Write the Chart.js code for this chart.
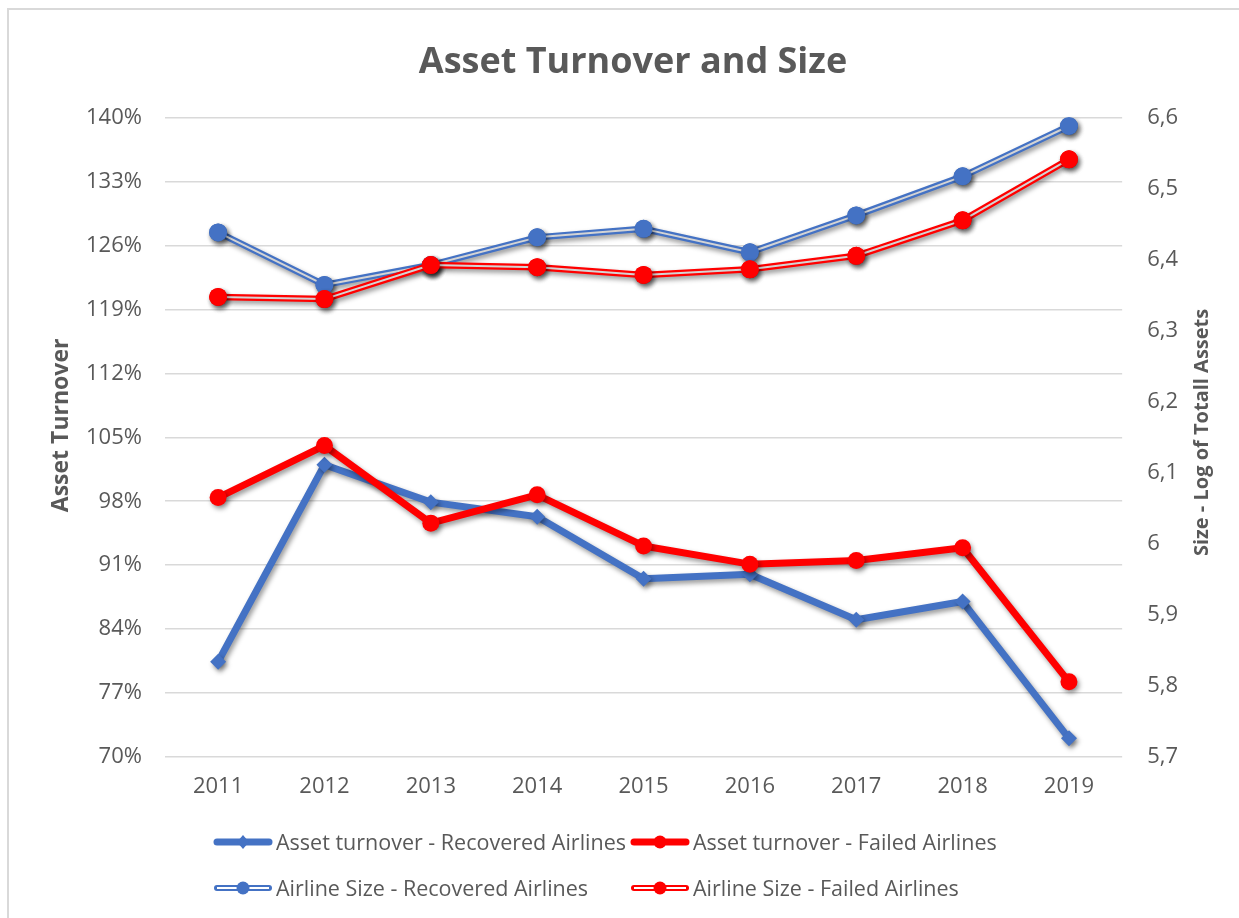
<!DOCTYPE html>
<html>
<head>
<meta charset="utf-8">
<script src="https://cdn.jsdelivr.net/npm/chart.js@4.4.1/dist/chart.umd.min.js"></script>
<style>
  body { margin: 0; background: #fff; font-family: 'Open Sans', sans-serif; }
  #frame { position: absolute; left: 7px; top: 8px; width: 1230px; height: 908px;
           border-top: 2px solid #d9d9d9; border-left: 2px solid #d9d9d9; }
  #wrap { position: absolute; left: 0; top: 0; width: 1230px; height: 908px; }
  .item { position: absolute; display: flex; align-items: center; font-size: 21.5px; color: #595959; white-space: nowrap; }
  .item svg { margin-right: 3px; }
</style>
</head>
<body>
<div id="frame">
  <div id="wrap"><canvas id="chart"></canvas></div>
</div>
<div id="legend"></div>
<script>
const years = ['2011', '2012', '2013', '2014', '2015', '2016', '2017', '2018', '2019'];
const turnoverRecovered = [80.4, 102.0, 97.9, 96.3, 89.5, 90.0, 85.0, 87.0, 72.0];
const turnoverFailed = [98.4, 104.1, 95.6, 98.7, 93.1, 91.1, 91.5, 92.9, 78.2];
const sizeRecovered = [6.439, 6.365, 6.393, 6.432, 6.444, 6.411, 6.463, 6.518, 6.589];
const sizeFailed = [6.348, 6.345, 6.393, 6.390, 6.379, 6.387, 6.406, 6.456, 6.542];

const blue = '#4472C4';
const red = '#FF0000';
const grey = '#595959';
const inner = '#d4d4d4';
const shadow = 'rgba(0,0,0,0.4)';

// drop shadow on every series, plus the light inner stroke of the "size" lines
const lineEffects = {
  id: 'lineEffects',
  beforeDatasetDraw(chart) {
    const ctx = chart.ctx;
    ctx.save();
    ctx.shadowColor = shadow;
    ctx.shadowBlur = 5;
    ctx.shadowOffsetX = 2;
    ctx.shadowOffsetY = 3;
  },
  afterDatasetDraw(chart, args) {
    const ctx = chart.ctx;
    const ds = chart.data.datasets[args.index];
    if (ds.innerColor) {
      const pts = args.meta.data;
      ctx.shadowColor = 'transparent';
      ctx.beginPath();
      pts.forEach((p, i) => i ? ctx.lineTo(p.x, p.y) : ctx.moveTo(p.x, p.y));
      ctx.strokeStyle = ds.innerColor;
      ctx.lineWidth = 2;
      ctx.lineJoin = 'round';
      ctx.stroke();
      ctx.shadowColor = shadow;
      pts.forEach(p => p.draw(ctx, chart.chartArea));
    }
    ctx.restore();
  }
};

// both axis titles read bottom-to-top
const axisTitles = {
  id: 'axisTitles',
  afterDraw(chart) {
    const area = chart.chartArea;
    const midY = (area.top + area.bottom) / 2;
    const ctx = chart.ctx;
    const draw = (text, x, y, size) => {
      ctx.save();
      ctx.translate(x, y);
      ctx.rotate(-Math.PI / 2);
      ctx.font = `bold ${size}px "Open Sans"`;
      ctx.fillStyle = grey;
      ctx.textAlign = 'center';
      ctx.textBaseline = 'middle';
      ctx.fillText(text, 0, 0);
      ctx.restore();
    };
    draw('Asset Turnover', area.left - 103, midY - 12, 23);
    draw('Size - Log of Totall Assets', area.right + 80, midY - 5, 20);
  }
};

const ctx = document.getElementById('chart').getContext('2d');
new Chart(ctx, {
  type: 'line',
  data: {
    labels: years,
    datasets: [{
      label: 'Asset turnover - Recovered Airlines',
      data: turnoverRecovered,
      yAxisID: 'y',
      borderColor: blue,
      backgroundColor: blue,
      borderWidth: 7,
      pointStyle: 'rectRot',
      pointRadius: 8,
      pointBorderWidth: 0,
      order: 4
    }, {
      label: 'Asset turnover - Failed Airlines',
      data: turnoverFailed,
      yAxisID: 'y',
      borderColor: red,
      backgroundColor: red,
      borderWidth: 7,
      pointStyle: 'circle',
      pointRadius: 8.5,
      pointBorderWidth: 0,
      order: 3
    }, {
      label: 'Airline Size - Recovered Airlines',
      data: sizeRecovered,
      yAxisID: 'y1',
      borderColor: blue,
      backgroundColor: blue,
      innerColor: inner,
      borderWidth: 6.5,
      pointStyle: 'circle',
      pointRadius: 9,
      pointBorderWidth: 0,
      order: 2
    }, {
      label: 'Airline Size - Failed Airlines',
      data: sizeFailed,
      yAxisID: 'y1',
      borderColor: red,
      backgroundColor: red,
      innerColor: inner,
      borderWidth: 6.5,
      pointStyle: 'circle',
      pointRadius: 9,
      pointBorderWidth: 0,
      order: 1
    }]
  },
  options: {
    responsive: true,
    maintainAspectRatio: false,
    animation: false,
    layout: { padding: { left: 54, right: 36, top: 0, bottom: 101 } },
    elements: {
      line: { tension: 0, borderJoinStyle: 'round', borderCapStyle: 'round' },
      point: { borderWidth: 0, hoverRadius: 8 }
    },
    plugins: {
      legend: { display: false },
      title: {
        display: true,
        text: 'Asset Turnover and Size',
        color: grey,
        font: { family: 'Open Sans', size: 36, weight: 'bold' },
        padding: { top: 31, bottom: 34 }
      },
      tooltip: { enabled: false }
    },
    scales: {
      x: {
        offset: true,
        grid: { display: false, drawTicks: false },
        border: { display: false },
        ticks: { color: grey, font: { family: 'Open Sans', size: 22 }, padding: 17 }
      },
      y: {
        position: 'left',
        min: 70,
        max: 140,
        border: { display: false },
        grid: { color: '#d9d9d9', lineWidth: 1.5, drawTicks: false },
        ticks: {
          stepSize: 7,
          color: grey,
          padding: 23,
          font: { family: 'Open Sans', size: 22 },
          callback: value => `${value}%`
        }
      },
      y1: {
        position: 'right',
        min: 5.7,
        max: 6.6,
        border: { display: false },
        grid: { display: false, drawTicks: false },
        ticks: {
          stepSize: 0.1,
          color: grey,
          padding: 25,
          font: { family: 'Open Sans', size: 22 },
          callback: value => String(Math.round(value * 10) / 10).replace('.', ',')
        }
      }
    }
  },
  plugins: [lineEffects, axisTitles]
});

// legend laid out as two aligned columns, like the original
const legendItems = [
  { text: 'Asset turnover - Recovered Airlines', color: blue, marker: 'diamond', double: false, x: 213, y: 842 },
  { text: 'Asset turnover - Failed Airlines', color: red, marker: 'circle', double: false, x: 630, y: 842 },
  { text: 'Airline Size - Recovered Airlines', color: blue, marker: 'circle', double: true, x: 213, y: 888 },
  { text: 'Airline Size - Failed Airlines', color: red, marker: 'circle', double: true, x: 630, y: 888 }
];
const legendEl = document.getElementById('legend');
legendItems.forEach(item => {
  const markerSvg = item.marker === 'diamond'
    ? `<polygon points="30,3 36,10 30,17 24,10" fill="${item.color}"/>`
    : `<circle cx="30" cy="10" r="6.5" fill="${item.color}"/>`;
  const innerSvg = item.double
    ? `<line x1="4" y1="10" x2="56" y2="10" stroke="#fff" stroke-width="2"/>` : '';
  const div = document.createElement('div');
  div.className = 'item';
  div.style.left = item.x + 'px';
  div.style.top = (item.y - 15) + 'px';
  div.innerHTML = `<svg width="60" height="20" viewBox="0 0 60 20">
      <line x1="4" y1="10" x2="56" y2="10" stroke="${item.color}" stroke-width="${item.double ? 6 : 7}" stroke-linecap="round"/>
      ${innerSvg}${markerSvg}</svg><span>${item.text}</span>`;
  legendEl.appendChild(div);
});
</script>
</body>
</html>
